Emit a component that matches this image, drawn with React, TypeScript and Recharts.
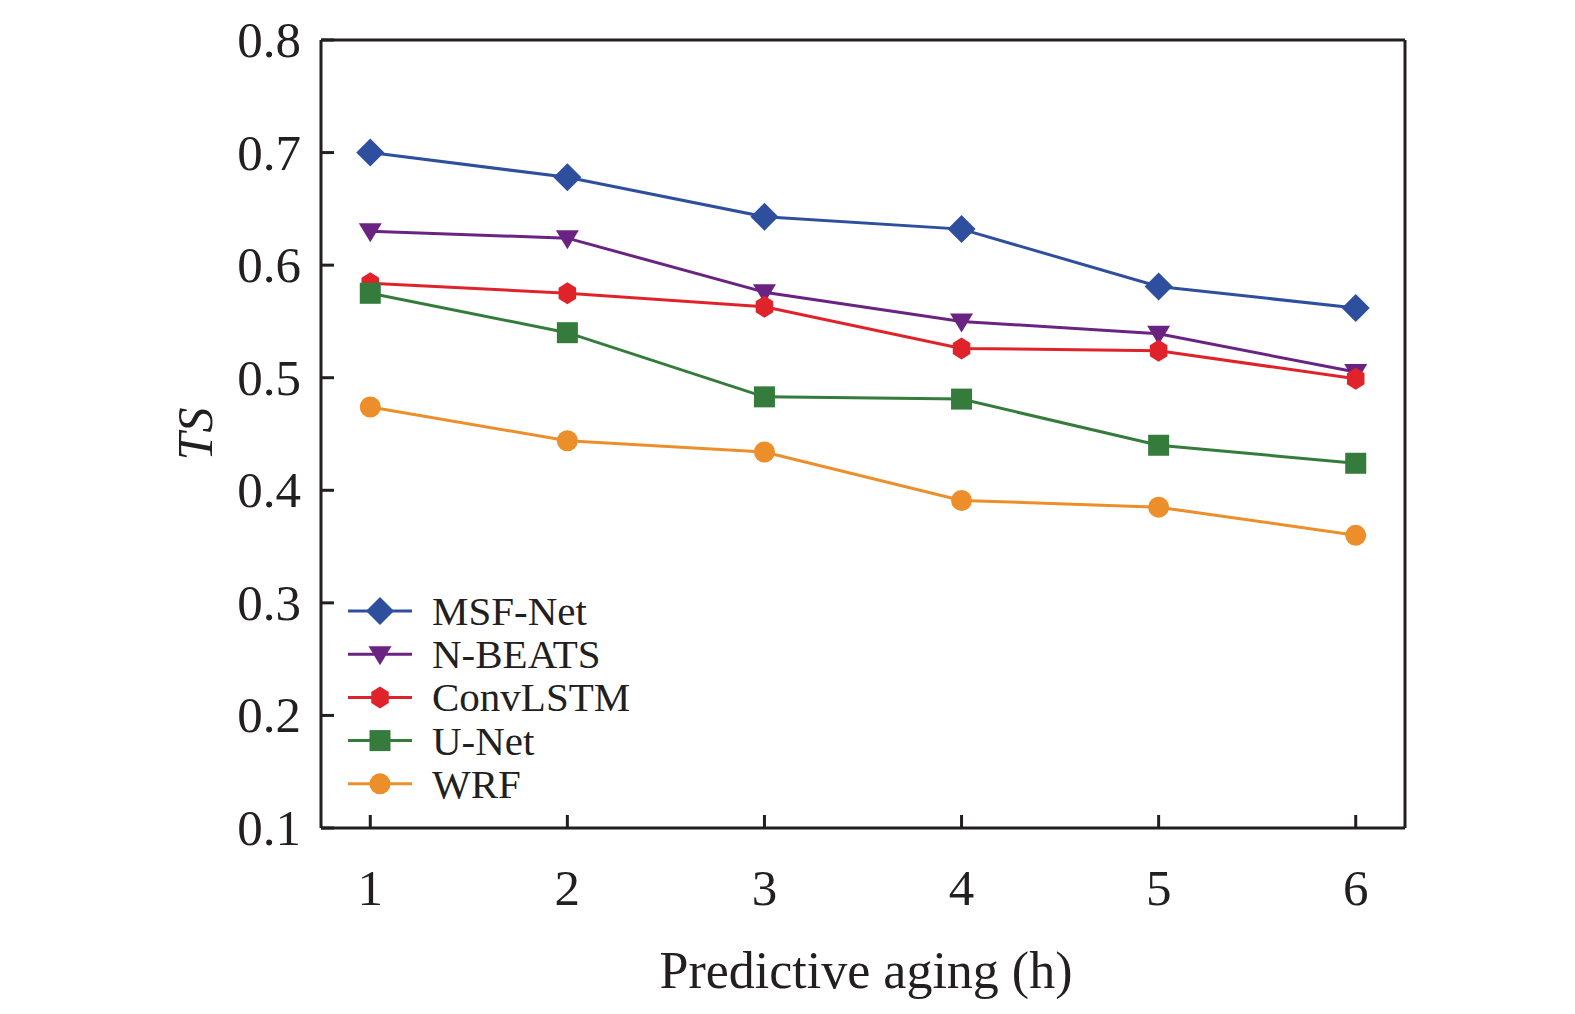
import { LineChart, Line, XAxis, YAxis, Legend, Label } from 'recharts'

// ─── Data ─────────────────────────────────────────────────────────────────
const hours = [1, 2, 3, 4, 5, 6]
const msfNet = [0.7, 0.678, 0.643, 0.632, 0.581, 0.562]
const nBeats = [0.63, 0.624, 0.576, 0.55, 0.539, 0.505]
const convLstm = [0.584, 0.575, 0.563, 0.526, 0.524, 0.499]
const uNet = [0.575, 0.54, 0.483, 0.481, 0.44, 0.424]
const wrf = [0.474, 0.444, 0.434, 0.391, 0.385, 0.36]
const yTicks = [0.1, 0.2, 0.3, 0.4, 0.5, 0.6, 0.7, 0.8]

type Shape = 'diamond' | 'triangle' | 'hexagon' | 'square' | 'circle'

const SERIES: { key: string; label: string; color: string; shape: Shape; values: number[] }[] = [
  { key: 'msf', label: 'MSF-Net', color: '#2E4E9E', shape: 'diamond', values: msfNet },
  { key: 'nbeats', label: 'N-BEATS', color: '#6B2382', shape: 'triangle', values: nBeats },
  { key: 'conv', label: 'ConvLSTM', color: '#E0232A', shape: 'hexagon', values: convLstm },
  { key: 'unet', label: 'U-Net', color: '#357B3B', shape: 'square', values: uNet },
  { key: 'wrf', label: 'WRF', color: '#EC8F2B', shape: 'circle', values: wrf },
]

const data = hours.map((h, i) => {
  const row: Record<string, number> = { h }
  SERIES.forEach((s) => (row[s.key] = s.values[i]))
  return row
})

const INK = '#231F20'
const FONT = '"Liberation Serif", "Times New Roman", serif'

// ─── Markers ──────────────────────────────────────────────────────────────
function Marker({ cx, cy, shape, color }: { cx: number; cy: number; shape: Shape; color: string }) {
  if (cx == null || cy == null) return null
  switch (shape) {
    case 'diamond':
      return <polygon points={`${cx},${cy - 14} ${cx + 14},${cy} ${cx},${cy + 14} ${cx - 14},${cy}`} fill={color} />
    case 'triangle':
      return <polygon points={`${cx - 11.5},${cy - 8} ${cx + 11.5},${cy - 8} ${cx},${cy + 11}`} fill={color} />
    case 'hexagon': {
      const r = 11
      const pts = [0, 1, 2, 3, 4, 5]
        .map((k) => {
          const a = (Math.PI / 3) * k - Math.PI / 2
          return `${cx + r * Math.cos(a) * 0.92},${cy + r * Math.sin(a)}`
        })
        .join(' ')
      return <polygon points={pts} fill={color} />
    }
    case 'square':
      return <rect x={cx - 10.5} y={cy - 10.5} width={21} height={21} fill={color} />
    default:
      return <circle cx={cx} cy={cy} r={10.5} fill={color} />
  }
}

// ─── Ticks ────────────────────────────────────────────────────────────────
function YTick({ x, y, payload }: any) {
  return (
    <g>
      <line x1={x} x2={x + 13} y1={y} y2={y} stroke={INK} strokeWidth={3} />
      <text x={x - 20} y={y} textAnchor="end" dominantBaseline="central" fontSize={51} fill={INK} fontFamily={FONT}>
        {Number(payload.value).toFixed(1)}
      </text>
    </g>
  )
}

function XTick({ x, y, payload }: any) {
  return (
    <g>
      <line x1={x} x2={x} y1={y} y2={y - 13} stroke={INK} strokeWidth={3} />
      <text x={x} y={y + 60} textAnchor="middle" dominantBaseline="central" fontSize={51} fill={INK} fontFamily={FONT}>
        {payload.value}
      </text>
    </g>
  )
}

// ─── Legend ───────────────────────────────────────────────────────────────
function LegendBox() {
  return (
    <svg width={360} height={270} style={{ display: 'block', overflow: 'visible' }}>
      {SERIES.map((s, i) => {
        const cy = 35 + i * 43.2
        return (
          <g key={s.key}>
            <line x1={7} x2={71} y1={cy} y2={cy} stroke={s.color} strokeWidth={3} />
            <Marker cx={39} cy={cy} shape={s.shape} color={s.color} />
            <text x={91} y={cy} dominantBaseline="central" fontSize={41} fill={INK} fontFamily={FONT}>
              {s.label}
            </text>
          </g>
        )
      })}
    </svg>
  )
}

export default function App() {
  return (
    <div style={{ background: '#fff', width: 1575, height: 1014 }}>
      <style>{'body{margin:0}'}</style>
      <LineChart width={1575} height={1014} data={data} margin={{ top: 39, right: 169, bottom: 185, left: 320 }}>
        <XAxis
          dataKey="h"
          type="number"
          domain={[0.75, 6.25]}
          ticks={hours}
          height={1}
          tickSize={0}
          tickMargin={0}
          tickLine={false}
          tick={<XTick />}
          axisLine={{ stroke: INK, strokeWidth: 3 }}
        >
          <Label
            content={({ viewBox }: any) => (
              <text
                x={viewBox.x + viewBox.width / 2 + 3}
                y={viewBox.y + 142}
                textAnchor="middle"
                dominantBaseline="central"
                fontSize={52}
                fill={INK}
                fontFamily={FONT}
              >
                Predictive aging (h)
              </text>
            )}
          />
        </XAxis>
        <XAxis xAxisId="top" orientation="top" dataKey="h" type="number" domain={[0.75, 6.25]} height={1} tick={false} tickLine={false} axisLine={{ stroke: INK, strokeWidth: 3 }} />
        <YAxis
          type="number"
          domain={[0.1, 0.8]}
          ticks={yTicks}
          width={1}
          tickSize={0}
          tickMargin={0}
          tickLine={false}
          tick={<YTick />}
          axisLine={{ stroke: INK, strokeWidth: 3 }}
        >
          <Label
            content={({ viewBox }: any) => {
              const cx = 195
              const cy = viewBox.y + viewBox.height / 2
              return (
                <text
                  x={cx}
                  y={cy}
                  transform={`rotate(-90 ${cx} ${cy})`}
                  textAnchor="middle"
                  dominantBaseline="central"
                  fontSize={50}
                  fontStyle="italic"
                  fill={INK}
                  fontFamily={FONT}
                >
                  TS
                </text>
              )
            }}
          />
        </YAxis>
        <YAxis yAxisId="right" orientation="right" domain={[0.1, 0.8]} width={1} tick={false} tickLine={false} axisLine={{ stroke: INK, strokeWidth: 3 }} />
        <Legend
          layout="horizontal"
          verticalAlign="middle"
          align="center"
          content={() => <LegendBox />}
          wrapperStyle={{ position: 'absolute', left: 341, top: 576, width: 360, height: 270 }}
        />
        {SERIES.map((s) => (
          <Line
            key={s.key}
            dataKey={s.key}
            name={s.label}
            stroke={s.color}
            strokeWidth={3}
            isAnimationActive={false}
            dot={(p: any) => <Marker key={`${s.key}-${p.index}`} cx={p.cx} cy={p.cy} shape={s.shape} color={s.color} />}
            activeDot={false}
          />
        ))}
      </LineChart>
    </div>
  )
}
